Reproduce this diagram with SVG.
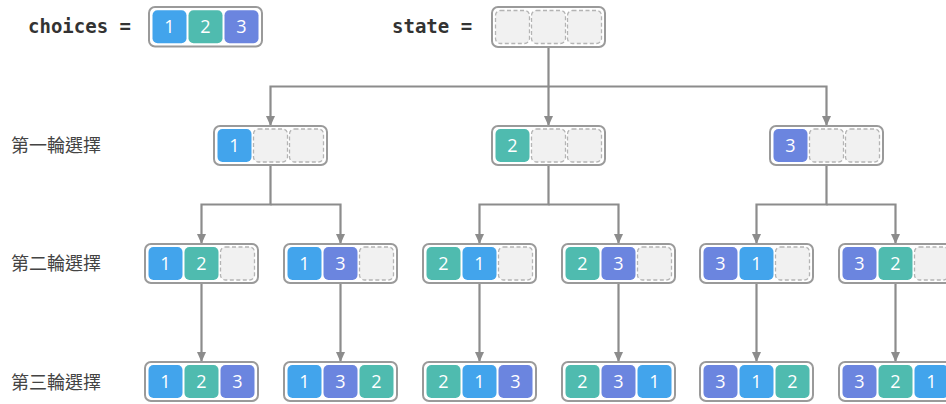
<svg xmlns="http://www.w3.org/2000/svg" width="946" height="404" viewBox="0 0 946 404">
<defs>
<style>
.box{fill:#ffffff;stroke:#9a9a9a;stroke-width:2}
.c1{fill:#42a4ec}
.c2{fill:#4fbbaf}
.c3{fill:#6b85df}
.ce{fill:#f1f1f1;stroke:#b4b4b4;stroke-width:1.3;stroke-dasharray:4 2.5}
.num{font-family:"Open Sans","Noto Sans",sans-serif;font-size:18px;fill:#ffffff;text-anchor:middle}
.code{font-family:"DejaVu Sans Mono",monospace;font-weight:bold;font-size:19px;fill:#333333}
.lbl{font-family:"Noto Sans CJK TC","Noto Sans CJK SC",sans-serif;font-size:18px;fill:#444444}
.conn{fill:none;stroke:#8c8c8c;stroke-width:2.2}
</style>
<marker id="arr" markerUnits="userSpaceOnUse" markerWidth="12" markerHeight="12" refX="10" refY="5" orient="auto">
<path d="M0,0.5 L10,5 L0,9.5 Z" fill="#8c8c8c"/>
</marker>
</defs>

<text class="code" x="28" y="33">choices =</text>
<text class="code" x="392" y="33">state =</text>

<text class="lbl" x="11" y="152">第一輪選擇</text>
<text class="lbl" x="11" y="270">第二輪選擇</text>
<text class="lbl" x="11" y="389">第三輪選擇</text>

<g id="connectors">
<path class="conn" d="M548.5,47 V86.5 H270.5 V126" marker-end="url(#arr)"/>
<path class="conn" d="M548.5,86.5 V126" marker-end="url(#arr)"/>
<path class="conn" d="M548.5,86.5 H826.5 V126" marker-end="url(#arr)"/>

<path class="conn" d="M270.5,165 V204.5 H201.5 V244" marker-end="url(#arr)"/>
<path class="conn" d="M270.5,204.5 H340.5 V244" marker-end="url(#arr)"/>
<path class="conn" d="M548.5,165 V204.5 H479.5 V244" marker-end="url(#arr)"/>
<path class="conn" d="M548.5,204.5 H618.5 V244" marker-end="url(#arr)"/>
<path class="conn" d="M826.5,165 V204.5 H756.5 V244" marker-end="url(#arr)"/>
<path class="conn" d="M826.5,204.5 H895.5 V244" marker-end="url(#arr)"/>

<path class="conn" d="M201.5,283 V362" marker-end="url(#arr)"/>
<path class="conn" d="M340.5,283 V362" marker-end="url(#arr)"/>
<path class="conn" d="M479.5,283 V362" marker-end="url(#arr)"/>
<path class="conn" d="M618.5,283 V362" marker-end="url(#arr)"/>
<path class="conn" d="M756.5,283 V362" marker-end="url(#arr)"/>
<path class="conn" d="M895.5,283 V362" marker-end="url(#arr)"/>
</g>

<g id="choices" transform="translate(149,7)">
<rect class="box" x="0" y="0" width="113" height="39.5" rx="6"/>
<rect class="c1" x="3.5" y="3.2" width="34" height="33" rx="5"/>
<rect class="c2" x="39.5" y="3.2" width="34" height="33" rx="5"/>
<rect class="c3" x="75.5" y="3.2" width="34" height="33" rx="5"/>
<text class="num" x="20.5" y="26">1</text>
<text class="num" x="56.5" y="26">2</text>
<text class="num" x="92.5" y="26">3</text>
</g>

<g id="state" transform="translate(492,7)">
<rect class="box" x="0" y="0" width="113" height="40" rx="6"/>
<rect class="ce" x="3.5" y="3.5" width="34" height="33" rx="5"/>
<rect class="ce" x="39.5" y="3.5" width="34" height="33" rx="5"/>
<rect class="ce" x="75.5" y="3.5" width="34" height="33" rx="5"/>
</g>

<g id="n1" transform="translate(214,126)">
<rect class="box" x="0" y="0" width="113" height="39" rx="6"/>
<rect class="c1" x="3.5" y="3" width="34" height="33" rx="5"/>
<rect class="ce" x="39.5" y="3" width="34" height="33" rx="5"/>
<rect class="ce" x="75.5" y="3" width="34" height="33" rx="5"/>
<text class="num" x="20.5" y="26">1</text>
</g>
<g id="n2" transform="translate(492,126)">
<rect class="box" x="0" y="0" width="113" height="39" rx="6"/>
<rect class="c2" x="3.5" y="3" width="34" height="33" rx="5"/>
<rect class="ce" x="39.5" y="3" width="34" height="33" rx="5"/>
<rect class="ce" x="75.5" y="3" width="34" height="33" rx="5"/>
<text class="num" x="20.5" y="26">2</text>
</g>
<g id="n3" transform="translate(770,126)">
<rect class="box" x="0" y="0" width="113" height="39" rx="6"/>
<rect class="c3" x="3.5" y="3" width="34" height="33" rx="5"/>
<rect class="ce" x="39.5" y="3" width="34" height="33" rx="5"/>
<rect class="ce" x="75.5" y="3" width="34" height="33" rx="5"/>
<text class="num" x="20.5" y="26">3</text>
</g>

<g id="n12" transform="translate(145,244)">
<rect class="box" x="0" y="0" width="113" height="39" rx="6"/>
<rect class="c1" x="3.5" y="3" width="34" height="33" rx="5"/>
<rect class="c2" x="39.5" y="3" width="34" height="33" rx="5"/>
<rect class="ce" x="75.5" y="3" width="34" height="33" rx="5"/>
<text class="num" x="20.5" y="26">1</text>
<text class="num" x="56.5" y="26">2</text>
</g>
<g id="n13" transform="translate(284,244)">
<rect class="box" x="0" y="0" width="113" height="39" rx="6"/>
<rect class="c1" x="3.5" y="3" width="34" height="33" rx="5"/>
<rect class="c3" x="39.5" y="3" width="34" height="33" rx="5"/>
<rect class="ce" x="75.5" y="3" width="34" height="33" rx="5"/>
<text class="num" x="20.5" y="26">1</text>
<text class="num" x="56.5" y="26">3</text>
</g>
<g id="n21" transform="translate(423,244)">
<rect class="box" x="0" y="0" width="113" height="39" rx="6"/>
<rect class="c2" x="3.5" y="3" width="34" height="33" rx="5"/>
<rect class="c1" x="39.5" y="3" width="34" height="33" rx="5"/>
<rect class="ce" x="75.5" y="3" width="34" height="33" rx="5"/>
<text class="num" x="20.5" y="26">2</text>
<text class="num" x="56.5" y="26">1</text>
</g>
<g id="n23" transform="translate(562,244)">
<rect class="box" x="0" y="0" width="113" height="39" rx="6"/>
<rect class="c2" x="3.5" y="3" width="34" height="33" rx="5"/>
<rect class="c3" x="39.5" y="3" width="34" height="33" rx="5"/>
<rect class="ce" x="75.5" y="3" width="34" height="33" rx="5"/>
<text class="num" x="20.5" y="26">2</text>
<text class="num" x="56.5" y="26">3</text>
</g>
<g id="n31" transform="translate(700,244)">
<rect class="box" x="0" y="0" width="113" height="39" rx="6"/>
<rect class="c3" x="3.5" y="3" width="34" height="33" rx="5"/>
<rect class="c1" x="39.5" y="3" width="34" height="33" rx="5"/>
<rect class="ce" x="75.5" y="3" width="34" height="33" rx="5"/>
<text class="num" x="20.5" y="26">3</text>
<text class="num" x="56.5" y="26">1</text>
</g>
<g id="n32" transform="translate(839,244)">
<rect class="box" x="0" y="0" width="113" height="39" rx="6"/>
<rect class="c3" x="3.5" y="3" width="34" height="33" rx="5"/>
<rect class="c2" x="39.5" y="3" width="34" height="33" rx="5"/>
<rect class="ce" x="75.5" y="3" width="34" height="33" rx="5"/>
<text class="num" x="20.5" y="26">3</text>
<text class="num" x="56.5" y="26">2</text>
</g>

<g id="n123" transform="translate(145,362)">
<rect class="box" x="0" y="0" width="113" height="39" rx="6"/>
<rect class="c1" x="3.5" y="3" width="34" height="33" rx="5"/>
<rect class="c2" x="39.5" y="3" width="34" height="33" rx="5"/>
<rect class="c3" x="75.5" y="3" width="34" height="33" rx="5"/>
<text class="num" x="20.5" y="26">1</text>
<text class="num" x="56.5" y="26">2</text>
<text class="num" x="92.5" y="26">3</text>
</g>
<g id="n132" transform="translate(284,362)">
<rect class="box" x="0" y="0" width="113" height="39" rx="6"/>
<rect class="c1" x="3.5" y="3" width="34" height="33" rx="5"/>
<rect class="c3" x="39.5" y="3" width="34" height="33" rx="5"/>
<rect class="c2" x="75.5" y="3" width="34" height="33" rx="5"/>
<text class="num" x="20.5" y="26">1</text>
<text class="num" x="56.5" y="26">3</text>
<text class="num" x="92.5" y="26">2</text>
</g>
<g id="n213" transform="translate(423,362)">
<rect class="box" x="0" y="0" width="113" height="39" rx="6"/>
<rect class="c2" x="3.5" y="3" width="34" height="33" rx="5"/>
<rect class="c1" x="39.5" y="3" width="34" height="33" rx="5"/>
<rect class="c3" x="75.5" y="3" width="34" height="33" rx="5"/>
<text class="num" x="20.5" y="26">2</text>
<text class="num" x="56.5" y="26">1</text>
<text class="num" x="92.5" y="26">3</text>
</g>
<g id="n231" transform="translate(562,362)">
<rect class="box" x="0" y="0" width="113" height="39" rx="6"/>
<rect class="c2" x="3.5" y="3" width="34" height="33" rx="5"/>
<rect class="c3" x="39.5" y="3" width="34" height="33" rx="5"/>
<rect class="c1" x="75.5" y="3" width="34" height="33" rx="5"/>
<text class="num" x="20.5" y="26">2</text>
<text class="num" x="56.5" y="26">3</text>
<text class="num" x="92.5" y="26">1</text>
</g>
<g id="n312" transform="translate(700,362)">
<rect class="box" x="0" y="0" width="113" height="39" rx="6"/>
<rect class="c3" x="3.5" y="3" width="34" height="33" rx="5"/>
<rect class="c1" x="39.5" y="3" width="34" height="33" rx="5"/>
<rect class="c2" x="75.5" y="3" width="34" height="33" rx="5"/>
<text class="num" x="20.5" y="26">3</text>
<text class="num" x="56.5" y="26">1</text>
<text class="num" x="92.5" y="26">2</text>
</g>
<g id="n321" transform="translate(839,362)">
<rect class="box" x="0" y="0" width="113" height="39" rx="6"/>
<rect class="c3" x="3.5" y="3" width="34" height="33" rx="5"/>
<rect class="c2" x="39.5" y="3" width="34" height="33" rx="5"/>
<rect class="c1" x="75.5" y="3" width="34" height="33" rx="5"/>
<text class="num" x="20.5" y="26">3</text>
<text class="num" x="56.5" y="26">2</text>
<text class="num" x="92.5" y="26">1</text>
</g>
</svg>
